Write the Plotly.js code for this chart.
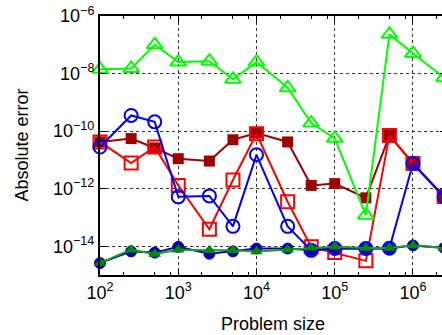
<!DOCTYPE html>
<html>
<head>
<meta charset="utf-8">
<script src="https://cdn.plot.ly/plotly-3.0.1.min.js"></script>
<style>
html, body { margin: 0; padding: 0; overflow: hidden; background: #fff; width: 442px; height: 335px; }
#wrap { width: 442px; height: 335px; overflow: hidden; position: relative; }
#chart { width: 452px; height: 335px; position: absolute; left: 0; top: 0; }
</style>
</head>
<body>
<div id="wrap"><div id="chart"></div></div>
<script>
// Problem sizes (x)
const sizes = [100, 250, 500, 1000, 2500, 5000, 10000, 25000, 50000, 100000, 250000, 500000, 1000000, 2500000];

// Absolute errors per series
const limeOpenTri = [1.4e-8, 1.5e-8, 1.0e-7, 2.5e-8, 2.7e-8, 6.3e-9, 2.5e-8, 3.2e-9, 1.9e-10, 5.6e-11, 1.2e-13, 2.3e-7, 5.0e-8, 7.2e-9];
const blueOpenCircle = [2.8e-11, 3.5e-10, 2.1e-10, 5.2e-13, 5.6e-13, 4.9e-14, 1.5e-11, 4.9e-14, 7.2e-15, 8.3e-15, 8.3e-15, 8.5e-15, 7.5e-12, 5.2e-13];
const redOpenSquare = [4.2e-11, 7.8e-12, 2.8e-11, 1.3e-12, 3.9e-14, 2.0e-12, 8.1e-11, 3.5e-13, 9.5e-15, 6.0e-15, 3.1e-15, 7.1e-11, 7.5e-12, 5.3e-13];
const darkRedSquare = [4.2e-11, 5.5e-11, 2.6e-11, 1.1e-11, 9.1e-12, 5.0e-11, 8.5e-11, 4.2e-11, 1.3e-12, 1.5e-12, 4.8e-13, 7.1e-11, 7.5e-12, 5.0e-13];
const navyCircle = [2.6e-15, 6.6e-15, 6.0e-15, 9.5e-15, 5.5e-15, 6.6e-15, 8.3e-15, 8.3e-15, 7.2e-15, 8.3e-15, 8.3e-15, 8.3e-15, 1.07e-14, 8.7e-15];
const darkGreenTri = [2.6e-15, 7.6e-15, 5.4e-15, 7.6e-15, 7.2e-15, 7.2e-15, 6.6e-15, 7.6e-15, 8.9e-15, 9.5e-15, 8.7e-15, 8.7e-15, 1.07e-14, 8.7e-15];

// Tick labels and titles
const xTickVals = [100, 1000, 10000, 100000, 1000000];
const xTickText = ['10<sup>2</sup>', '10<sup>3</sup>', '10<sup>4</sup>', '10<sup>5</sup>', '10<sup>6</sup>'];
const xMinorVals = [200, 500, 800, 2000, 5000, 8000, 20000, 50000, 80000, 200000, 500000, 800000, 2000000, 5000000];
const yTickVals = [1e-14, 1e-12, 1e-10, 1e-8, 1e-6];
const yTickText = ['10<sup>\u221214</sup>', '10<sup>\u221212</sup>', '10<sup>\u221210</sup>', '10<sup>\u22128</sup>', '10<sup>\u22126</sup>'];
const xTitle = 'Problem size';
const yTitle = 'Absolute error';

function tr(y, color, symbol, size, lineColor, mlw, mlc) {
  return {
    x: sizes, y: y, type: 'scatter', mode: 'lines+markers',
    line: { color: lineColor || color, width: 2 },
    marker: { symbol: symbol, size: size, color: color, line: { color: mlc || color, width: mlw } },
    cliponaxis: false, hoverinfo: 'skip'
  };
}

const data = [
  tr(darkRedSquare, '#a00000', 'square', 11, '#a00000', 0),
  tr(redOpenSquare, '#ff0000', 'square-open', 13, '#ff0000', 2),
  tr(blueOpenCircle, '#0000ff', 'circle-open', 13, '#0000ff', 2),
  tr(limeOpenTri, '#00ff00', 'triangle-up-open', 14, '#00ff00', 2),
  tr(navyCircle, '#00009c', 'circle', 11, '#0000c0', 1, '#0000ff'),
  tr(darkGreenTri, '#008a00', 'triangle-up', 11, '#229a22', 0)
];

const fam = 'Liberation Sans, Arial, sans-serif';
const tfont = { family: fam, size: 18, color: '#000' };

const layout = {
  width: 452, height: 335, autosize: false,
  margin: { l: 100, r: 6, t: 16, b: 60, pad: 0, autoexpand: false },
  paper_bgcolor: '#fff', plot_bgcolor: '#fff',
  showlegend: false,
  font: tfont,
  xaxis: {
    type: 'log', range: [2, 6.422], autorange: false,
    tickmode: 'array', tickvals: xTickVals, ticktext: xTickText,
    ticks: 'inside', ticklen: 6, tickwidth: 1, tickcolor: '#000',
    showline: true, linecolor: '#000', linewidth: 2, mirror: 'ticks',
    showgrid: true, gridcolor: '#333', gridwidth: 1, griddash: 'dot',
    zeroline: false, automargin: false,
    tickfont: tfont,
    minor: { tickmode: 'array', tickvals: xMinorVals, ticks: 'inside', ticklen: 3, tickwidth: 1, tickcolor: '#000', showgrid: false }
  },
  yaxis: {
    type: 'log', range: [-15, -6], autorange: false,
    tickmode: 'array', tickvals: yTickVals, ticktext: yTickText,
    ticks: 'inside', ticklen: 6, tickwidth: 1, tickcolor: '#000',
    showline: true, linecolor: '#000', linewidth: 2, mirror: 'ticks',
    showgrid: true, gridcolor: '#333', gridwidth: 1, griddash: 'dot',
    zeroline: false, automargin: false,
    tickfont: tfont
  },
  annotations: [
    { text: xTitle, xref: 'paper', yref: 'paper', x: 0.5, y: -0.189, xanchor: 'center', yanchor: 'middle', showarrow: false, font: tfont },
    { text: yTitle, xref: 'paper', yref: 'paper', x: -0.2283, y: 0.5, xanchor: 'center', yanchor: 'middle', textangle: -90, showarrow: false, font: tfont }
  ]
};

Plotly.newPlot('chart', data, layout, { staticPlot: true, displayModeBar: false, responsive: false });
</script>
</body>
</html>
